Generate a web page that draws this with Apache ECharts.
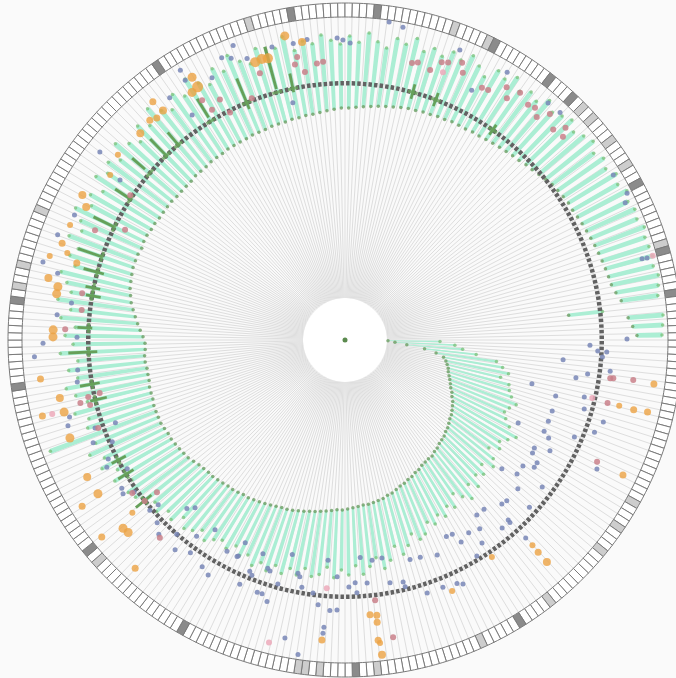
<!DOCTYPE html>
<html>
<head>
<meta charset="utf-8">
<script src="https://cdn.jsdelivr.net/npm/echarts@6/dist/echarts.min.js"></script>
<style>
  html, body { margin: 0; padding: 0; background: #fafafa; }
  #chart { width: 676px; height: 678px; }
</style>
</head>
<body>
<div id="chart"></div>
<script>
// Sectors carrying the green ranges
const N = 200;
const categories = Array.from({ length: N }, (_, i) => 'S' + (i + 1));
// Finer sectors of the outer band, the guide lines and the reference track
const M = 288;
const bandCategories = Array.from({ length: M }, (_, i) => 'B' + (i + 1));

// Inner end of each green range bar
const rangeStart = [
  1, 8, 20, 38, 50, 58, 61, 63, 65, 66,
  68, 70, 72, 74, 77, 79, 82, 84, 86, 88,
  89, 91, 93, 94, 96, 97, 98, 100, 101, 103,
  103, 104, 105, 107, 108, 110, 111, 113, 114, 116,
  118, 119, 121, 122, 123, 124, 124, 125, 126, 127,
  128, 128, 129, 130, 131, 132, 133, 134, 135, 136,
  137, 137, 138, 139, 140, 141, 142, 143, 143, 144,
  145, 145, 146, 147, 148, 148, 149, 150, 152, 154,
  155, 156, 157, 158, 158, 159, 160, 160, 160, 160,
  159, 159, 159, 158, 158, 158, 159, 159, 158, 158,
  160, 163, 166, 169, 172, 175, 177, 179, 180, 181,
  182, 182, 182, 181, 182, 182, 181, 181, 180, 180,
  180, 180, 179, 179, 179, 179, 180, 180, 180, 181,
  181, 181, 182, 182, 182, 182, 183, 183, 183, 184,
  184, 184, 185, 185, 186, 186, 187, 188, 189, 190,
  190, 191, 192, 193, 194, 195, 196, 197, 198, 198,
  199, 199, 200, 200, 201, 201, 201, 202, 202, 203,
  204, 205, 206, 207, 208, 210, 211, 213, 215, 217,
  218, 219, 220, 220, 221, 222, 223, 224, 225, 226,
  227, 228, 229, 230, 233, 237, 183, 242, 246, 250
];

// Outer end of each green range bar
const rangeEnd = [
  53, 68, 76, 90, 111, 118, 125, 118, 128, 130,
  134, 141, 136, 133, 137, 144, 155, 149, 143, 147,
  138, 148, 153, 143, 151, 146, 156, 148, 161, 154,
  146, 158, 153, 161, 156, 163, 158, 168, 171, 163,
  173, 180, 170, 183, 190, 178, 186, 193, 184, 193,
  188, 196, 186, 194, 197, 190, 198, 193, 200, 194,
  202, 196, 202, 194, 198, 191, 198, 193, 197, 203,
  196, 202, 206, 198, 208, 204, 213, 208, 216, 220,
  223, 213, 228, 220, 233, 226, 238, 228, 273, 230,
  226, 238, 223, 233, 241, 228, 236, 226, 243, 230,
  238, 228, 243, 234, 248, 236, 242, 250, 238, 246,
  240, 253, 243, 248, 258, 245, 251, 242, 256, 248,
  254, 246, 260, 250, 243, 256, 248, 262, 252, 246,
  258, 250, 264, 254, 247, 260, 253, 266, 256, 250,
  263, 254, 258, 268, 252, 260, 256, 264, 258, 254,
  262, 256, 266, 258, 253, 264, 260, 268, 257, 263,
  258, 266, 261, 270, 263, 256, 268, 264, 272, 262,
  268, 264, 273, 266, 270, 274, 267, 272, 276, 269,
  274, 270, 276, 272, 277, 273, 276, 274, 278, 275,
  276, 277, 275, 278, 276, 274, 217, 277, 276, 275
];

// Constant reference track
const trackValue = 212.5;
const trackWidth = 4.5;

// Highlighted intervals: [sector, from, to]
const highlights = [
  [78, 206, 226], [82, 206, 224], [84, 206, 222], [92, 203, 220],
  [94, 207, 227], [98, 206, 235], [101, 211, 226], [105, 206, 221],
  [106, 208, 223], [108, 208, 229], [110, 215, 240], [114, 215, 238],
  [118, 213, 233], [122, 221, 238], [125, 213, 238], [127, 213, 231],
  [132, 219, 241], [137, 208, 241], [141, 218, 262], [143, 211, 230],
  [158, 208, 223], [161, 208, 222], [169, 209, 221]
];

// Observations: [value, angle in degrees]
const blueObs = [
  [273,249.2],[266,246.4],[262,248],[256,250.8],[263,238.4],[274,238.6],[257,234.1],[252,243.1],
  [230,235.8],[260,256],[259,260.1],[261,262.8],[260,268.5],[258,269.6],[255,271],[201,257.6],
  [276,280.5],[270,291.6],[271,301.2],[270,310.6],[271,313.4],[238,296.9],[273,328.4],[276,332.5],
  [270,333.9],[266,344.7],[271,344.8],[240,359.8],[203,1.2],[211,2.5],[220,2.6],[216,3.8],
  [177,5.2],[225,6.7],[203,8.0],[192,9.3],[204,13.4],[150,13.2],[176,14.9],[177,18.9],
  [177,21.8],[177,24.6],[184,25.7],[207,22.9],[150,25.6],[176,29.7],[177,31.1],[186,32.6],
  [176,35.3],[186,33.9],[161,39.4],[176,37.9],[191,28.4],[204,36.7],[186,40.7],[185,46.3],
  [186,44.8],[207,42.2],[177,50.6],[177,53.0],[201,47.8],[204,47.9],[203,50.1],[190,54.5],
  [187,57.3],[203,56.0],[191,60.1],[180,61.1],[179,62.7],[211,58.6],[226,47.6],[207,16.1],
  [229,17.6],[224,20.3],[241,27.1],[226,65.3],[229,64.2],[224,68.4],[187,111.0],[179,103.8],
  [179,94.4],[176,86.0],[180,83.0],[179,80.4],[187,73.5],[188,70.9],[192,66.8],[199,116.3],
  [208,112.4],[224,113.3],[225,109.2],[225,108.1],[231,106.6],[201,108.0],[196,101.4],[199,100.8],
  [211,105.4],[213,97.2],[224,95.8],[209,99.9],[195,91.9],[201,87.6],[205,89.1],[211,87.3],
  [202,84.8],[205,79.5],[207,76.5],[212,76.3],[224,72.0],[229,93.2],[228,91.7],[246,94.2],
  [252,94.3],[262,101.4],[276,98.5],[202,160.2],[223,160.6],[230,157.8],[212,156.4],[223,153.3],
  [228,151.9],[211,149.4],[226,146.4],[218,144.2],[228,145.3],[217,138.9],[207,138.6],[220,135.8],
  [227,133.8],[215,130.9],[228,129.0],[189,133.2],[183,131.8],[221,126.0],[226,122.2],[230,120.2],
  [188,124.4],[204,127.1],[200,119.2],[200,116.5],[184,116.2],[199,108.7],[211,111.6],[270,194.5],
  [253,193.1],[234,187.7],[247,185.0],[226,180.6],[260,179.4],[269,176.9],[227,173.6],[229,171.1],
  [244,164.4],[248,162.8],[267,217.5],[234,215.4],[264,200.1],[256,204.8],[279,277.9]
];

const roseObs = [
  [236,264.2],[237,265.5],[245,260.4],[238,259.7],[229,261.5],[238,252.3],[237,239.2],[229,242.5],
  [224,240.0],[213,243.2],[217,248.9],[243,283.6],[245,284.7],[241,287.5],[252,289.2],[254,290.4],
  [259,292.9],[250,293.8],[245,298.5],[246,299.8],[258,302.6],[249,303.8],[261,305.3],[256,307.9],
  [258,309.3],[252,310.7],[254,314.7],[256,317.0],[264,316.1],[263,312.2],[226,8.2],[229,8.1],
  [249,7.9],[228,13.5],[238,25.8],[220,83.4],[259,80.8],[220,160.4],[221,167.5],[200,141.0],
  [215,141.2],[229,133.1],[220,144.3],[209,167.8],[225,190.1],[223,186.5],[238,182.2],[230,166.6],
  [221,165.7],[231,203.7],[204,206.6],[217,214.0]
];

const pinkObs = [
  [243,290.1],[277,344.7],[212,13.2],[207,94.2],[270,104.1],[260,165.8]
];

// Orange observations: [value, angle in degrees, weight]
const orangeObs = [
  [268,258.8,9],[259,261.8,8],[250,252.1,10],[251,253.5,10],[250,254.7,10],[262,239.8,9],
  [251,239.8,11],[249,238.3,9],[251,231.6,8],[264,231.1,7],[249,229.7,7],[249,225.3,8],
  [252,228.4,7],[251,219.2,6],[245,215.1,6],[258,208.9,8],[249,207.2,8],[256,202.7,6],
  [257,198.9,7],[249,197.4,6],[261,191.8,8],[250,190.5,9],[250,189.1,9],[250,182.0,9],
  [250,180.6,9],[265,172.7,7],[249,168.5,8],[248,165.6,9],[270,165.9,7],[250,160.4,9],
  [237,196.0,7],[265,195.9,6],[250,152.0,8],[249,148.1,9],[249,139.7,9],[248,138.4,9],
  [271,141.0,7],[232,140.9,6],[269,147.7,7],[268,132.6,7],[234,84.8,7],[235,83.4,7],
  [242,83.5,7],[259,94.4,7],[260,83.7,7],[263,83.4,6],[275,83.3,8],[240,13.5,6],
  [255,13.6,7],[267,25.9,7],[236,47.6,6],[245,47.7,7],[258,47.7,8],[220,55.9,6],
  [231,66.9,6],[270,8.1,7],[269,13.4,7]
];

// Outer band: sectors shaded dark or light, all others white
const darkCells = [46, 70, 95, 112, 137, 149, 188, 208, 220, 237, 246, 250, 265, 275, 281];
const lightCells = [23, 27, 31, 41, 52, 67, 75, 77, 78, 110, 151, 154, 162, 202, 231, 236, 252, 254, 258, 262, 274];

const CENTER = [345, 340];
const INNER = 42, OUTER = 323, BAND_OUT = 337;
const VMAX = 281;
const sectorAngle = i => (i + 0.5) * 360 / N;

function makePolar(r) { return { center: CENTER, radius: r }; }
function catAngle(idx, data, showLines) {
  return {
    polarIndex: idx, type: 'category', data: data, startAngle: 0, clockwise: true,
    boundaryGap: true,
    axisLine: { show: false },
    axisTick: { show: false, interval: 0 },
    axisLabel: { show: false, interval: 0 },
    splitLine: showLines
      ? { show: true, interval: 0, lineStyle: { color: '#dedede', width: 1 } }
      : { show: false }
  };
}
function valRadius(idx, max) {
  return {
    polarIndex: idx, type: 'value', min: 0, max: max,
    axisLine: { show: false }, axisTick: { show: false }, axisLabel: { show: false },
    splitLine: { show: false }
  };
}

const rangeLen = rangeEnd.map((e, i) => e - rangeStart[i]);
const hlBase = new Array(N).fill(null);
const hlLen = new Array(N).fill(null);
highlights.forEach(([i, a, b]) => { hlBase[i] = a; hlLen[i] = b - a; });

const bandData = bandCategories.map((_, i) => ({
  value: 1,
  itemStyle: {
    color: darkCells.includes(i) ? '#8b8b8b' : (lightCells.includes(i) ? '#cdcdcd' : '#ffffff')
  }
}));

const option = {
  backgroundColor: '#fafafa',
  animation: false,
  polar: [
    makePolar([INNER, OUTER]),
    makePolar([INNER, OUTER]),
    makePolar([INNER, OUTER]),
    makePolar([INNER, OUTER]),
    makePolar([OUTER, BAND_OUT])
  ],
  angleAxis: [
    catAngle(0, categories, false),
    catAngle(1, bandCategories, true),
    catAngle(2, categories, false),
    {
      polarIndex: 3, type: 'value', min: 0, max: 360, startAngle: 0, clockwise: true,
      axisLine: { show: false }, axisTick: { show: false }, axisLabel: { show: false },
      splitLine: { show: false }
    },
    catAngle(4, bandCategories, false)
  ],
  radiusAxis: [
    valRadius(0, VMAX), valRadius(1, VMAX), valRadius(2, VMAX), valRadius(3, VMAX), valRadius(4, 1)
  ],
  graphic: [
    { type: 'circle', shape: { cx: CENTER[0], cy: CENTER[1], r: INNER }, style: { fill: '#ffffff' }, z: -10, silent: true },
    { type: 'circle', shape: { cx: CENTER[0], cy: CENTER[1], r: 2.5 }, style: { fill: '#5b8a4e' }, z: 100, silent: true }
  ],
  series: [
    {
      type: 'bar', coordinateSystem: 'polar', polarIndex: 0, stack: 'range',
      data: rangeStart, barWidth: '50%', itemStyle: { color: 'rgba(0,0,0,0)' }, silent: true, z: 2
    },
    {
      type: 'bar', coordinateSystem: 'polar', polarIndex: 0, stack: 'range',
      data: rangeLen, barWidth: '50%', itemStyle: { color: '#abeed4' }, silent: true, z: 2
    },
    {
      type: 'scatter', coordinateSystem: 'polar', polarIndex: 0,
      data: rangeStart.map((v, i) => [v, i]), symbolSize: 3.5,
      itemStyle: { color: '#6c9d63' }, silent: true, z: 3
    },
    {
      type: 'scatter', coordinateSystem: 'polar', polarIndex: 0,
      data: rangeEnd.map((v, i) => [v, i]), symbolSize: 3.5,
      itemStyle: { color: '#7cc37e' }, silent: true, z: 3
    },
    {
      type: 'bar', coordinateSystem: 'polar', polarIndex: 1, stack: 'track',
      data: new Array(M).fill(trackValue), barWidth: '62%',
      itemStyle: { color: 'rgba(0,0,0,0)' }, silent: true, z: 4
    },
    {
      type: 'bar', coordinateSystem: 'polar', polarIndex: 1, stack: 'track',
      data: new Array(M).fill(trackWidth), barWidth: '62%',
      itemStyle: { color: '#626262' }, silent: true, z: 4
    },
    {
      type: 'bar', coordinateSystem: 'polar', polarIndex: 2, stack: 'hl',
      data: hlBase, barWidth: '34%', itemStyle: { color: 'rgba(0,0,0,0)' }, silent: true, z: 5
    },
    {
      type: 'bar', coordinateSystem: 'polar', polarIndex: 2, stack: 'hl',
      data: hlLen, barWidth: '34%', itemStyle: { color: '#66a05a' }, silent: true, z: 5
    },
    {
      type: 'scatter', coordinateSystem: 'polar', polarIndex: 2,
      data: highlights.map(h => [trackValue + trackWidth / 2, h[0]]),
      symbol: 'rect', symbolSize: [3, 10],
      symbolRotate: (val) => -sectorAngle(val[1]),
      itemStyle: { color: '#66a05a' }, silent: true, z: 5
    },
    {
      type: 'scatter', coordinateSystem: 'polar', polarIndex: 3,
      data: blueObs, symbolSize: 5, itemStyle: { color: '#7886b6', opacity: 0.85 }, silent: true, z: 6
    },
    {
      type: 'scatter', coordinateSystem: 'polar', polarIndex: 3,
      data: roseObs, symbolSize: 6, itemStyle: { color: '#c98089', opacity: 0.85 }, silent: true, z: 6
    },
    {
      type: 'scatter', coordinateSystem: 'polar', polarIndex: 3,
      data: pinkObs, symbolSize: 6, itemStyle: { color: '#eca9ba', opacity: 0.85 }, silent: true, z: 6
    },
    {
      type: 'scatter', coordinateSystem: 'polar', polarIndex: 3,
      data: orangeObs, symbolSize: (val) => val[2],
      itemStyle: { color: '#eca344', opacity: 0.8 }, silent: true, z: 7
    },
    {
      type: 'bar', coordinateSystem: 'polar', polarIndex: 4,
      data: bandData, barWidth: '100%',
      itemStyle: { borderColor: '#7a7a7a', borderWidth: 1 }, silent: true, z: 2
    }
  ]
};

const chart = echarts.init(document.getElementById('chart'));
chart.setOption(option);
</script>
</body>
</html>
